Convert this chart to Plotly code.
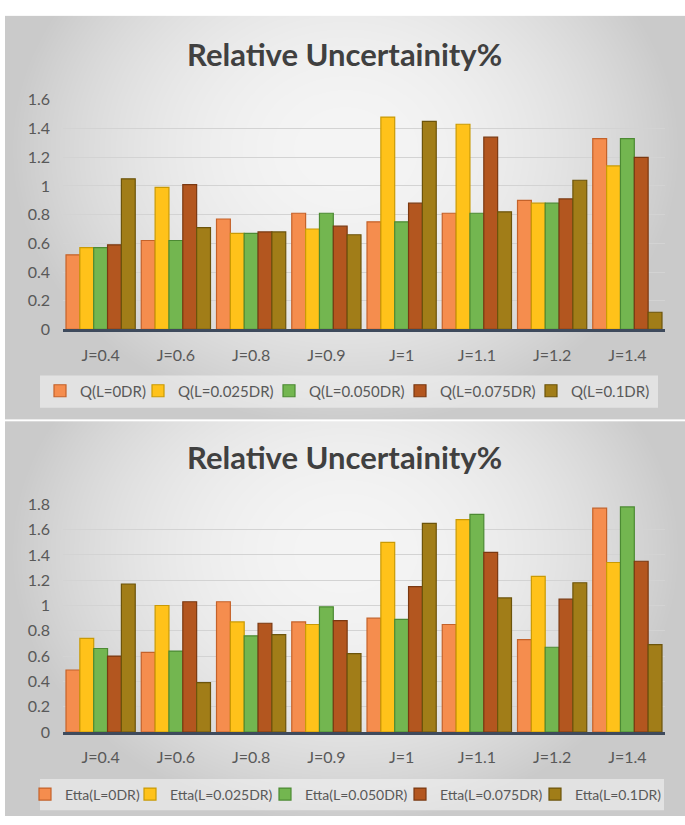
import base64
import struct
import zlib

import numpy as np
import plotly.graph_objects as go

# ---------------------------------------------------------------- data
categories = ["J=0.4", "J=0.6", "J=0.8", "J=0.9", "J=1", "J=1.1", "J=1.2", "J=1.4"]

q_names = ["Q(L=0DR)", "Q(L=0.025DR)", "Q(L=0.050DR)", "Q(L=0.075DR)", "Q(L=0.1DR)"]
q_l000 = [0.52, 0.62, 0.77, 0.81, 0.75, 0.81, 0.90, 1.33]
q_l025 = [0.57, 0.99, 0.67, 0.70, 1.48, 1.43, 0.88, 1.14]
q_l050 = [0.57, 0.62, 0.67, 0.81, 0.75, 0.81, 0.88, 1.33]
q_l075 = [0.59, 1.01, 0.68, 0.72, 0.88, 1.34, 0.91, 1.20]
q_l100 = [1.05, 0.71, 0.68, 0.66, 1.45, 0.82, 1.04, 0.12]

etta_names = ["Etta(L=0DR)", "Etta(L=0.025DR)", "Etta(L=0.050DR)",
              "Etta(L=0.075DR)", "Etta(L=0.1DR)"]
etta_l000 = [0.49, 0.63, 1.03, 0.87, 0.90, 0.85, 0.73, 1.77]
etta_l025 = [0.74, 1.00, 0.87, 0.85, 1.50, 1.68, 1.23, 1.34]
etta_l050 = [0.66, 0.64, 0.76, 0.99, 0.89, 1.72, 0.67, 1.78]
etta_l075 = [0.60, 1.03, 0.86, 0.88, 1.15, 1.42, 1.05, 1.35]
etta_l100 = [1.17, 0.39, 0.77, 0.62, 1.65, 1.06, 1.18, 0.69]

title_text = "Relative Uncertainity%"

# ---------------------------------------------------------------- styling
W, H = 685, 825
FONT = "Lato"
face_colors = ["#F58D4E", "#FFC21A", "#73B650", "#B3561F", "#A17D18"]
edge_colors = ["#C4622A", "#C99A05", "#4C8A33", "#7A3811", "#6C540B"]

# per-entry legend widths (px) so the horizontal legends stay on one row
q_legend_widths = [53, 86, 86, 86, 85]
etta_legend_widths = [60, 90, 90, 90, 95]


def png_data_uri(rgb):
    """Encode an (h, w, 3) uint8 array as a PNG data URI."""
    h, w, _ = rgb.shape
    raw = b"".join(b"\x00" + rgb[r].tobytes() for r in range(h))

    def chunk(tag, payload):
        body = tag + payload
        return (struct.pack(">I", len(payload)) + body
                + struct.pack(">I", zlib.crc32(body) & 0xFFFFFFFF))

    png = (b"\x89PNG\r\n\x1a\n"
           + chunk(b"IHDR", struct.pack(">IIBBBBB", w, h, 8, 2, 0, 0, 0))
           + chunk(b"IDAT", zlib.compress(raw, 9))
           + chunk(b"IEND", b""))
    return "data:image/png;base64," + base64.b64encode(png).decode()


def panel_backdrop():
    """White page holding two grey panels with a soft radial shading."""
    img = np.full((H, W), 255.0)
    yy, xx = np.mgrid[0:H, 0:W].astype(float)
    for top, bottom in ((6, 419), (421, H)):
        left, right = 5, W
        u = (xx - left) / (right - left) - 0.5
        v = (yy - top) / (bottom - top) - 0.33
        r2 = (2 * u) ** 2 + (v / 0.7) ** 2
        shade = np.clip(245 - 44 * r2, 202, 245)
        inside = (yy >= top) & (yy < bottom) & (xx >= left)
        img[inside] = shade[inside]
    rgb = np.repeat(img[:, :, None], 3, axis=2).clip(0, 255).astype(np.uint8)
    return png_data_uri(rgb)


fig = go.Figure()

panels = [
    (q_names, [q_l000, q_l025, q_l050, q_l075, q_l100], q_legend_widths,
     "x", "y", "legend"),
    (etta_names, [etta_l000, etta_l025, etta_l050, etta_l075, etta_l100],
     etta_legend_widths, "x2", "y2", "legend2"),
]
for names, series, lws, xa, ya, lg in panels:
    for name, vals, lw, fc, ec in zip(names, series, lws, face_colors, edge_colors):
        fig.add_trace(go.Bar(
            x=categories, y=vals, name=name, xaxis=xa, yaxis=ya, legend=lg,
            legendwidth=lw,
            marker=dict(color=fc, line=dict(color=ec, width=1.2)),
            hoverinfo="skip",
        ))


def ypos(px):
    return 1 - px / H


x_dom = [63 / W, 665 / W]
axis_common = dict(
    showline=True, linecolor="#3E4A5C", linewidth=3, ticks="",
    tickfont=dict(family=FONT, size=16, color="#595959"),
    ticklabelstandoff=9, showgrid=False, zeroline=False, fixedrange=True,
)
yaxis_common = dict(
    showgrid=True, gridcolor="#D3D3D3", gridwidth=1, zeroline=False,
    showline=False, ticks="", dtick=0.2, tickformat="~g",
    tickfont=dict(family=FONT, size=16, color="#595959"),
    ticklabelstandoff=12, fixedrange=True,
)
legend_common = dict(
    orientation="h", xanchor="left", yanchor="middle",
    bgcolor="rgba(0,0,0,0)", borderwidth=0,
    itemclick=False, itemdoubleclick=False, traceorder="normal",
)

fig.update_layout(
    width=W, height=H,
    margin=dict(l=0, r=0, t=0, b=0),
    paper_bgcolor="white", plot_bgcolor="rgba(0,0,0,0)",
    barmode="group", bargap=0.08, bargroupgap=0.0,
    font=dict(family=FONT),
    xaxis=dict(domain=x_dom, anchor="y", **axis_common),
    yaxis=dict(domain=[ypos(327), ypos(92)], range=[0, 1.6], anchor="x",
               **yaxis_common),
    xaxis2=dict(domain=x_dom, anchor="y2", **axis_common),
    yaxis2=dict(domain=[ypos(739), ypos(506)], range=[0, 1.8], anchor="x2",
                **yaxis_common),
    legend=dict(x=40 / W, y=ypos(390),
                font=dict(family=FONT, size=15, color="#595959"),
                **legend_common),
    legend2=dict(x=25 / W, y=ypos(803),
                 font=dict(family=FONT, size=14, color="#595959"),
                 **legend_common),
    images=[dict(source=panel_backdrop(), xref="paper", yref="paper",
                 x=0, y=1, sizex=1, sizey=1, xanchor="left", yanchor="top",
                 sizing="stretch", layer="below")],
    shapes=[
        dict(type="rect", xref="paper", yref="paper",
             x0=40 / W, x1=658 / W, y0=ypos(407), y1=ypos(374),
             fillcolor="rgba(245,245,245,0.55)", line=dict(width=0),
             layer="below"),
        dict(type="rect", xref="paper", yref="paper",
             x0=40 / W, x1=664 / W, y0=ypos(819), y1=ypos(787),
             fillcolor="rgba(245,245,245,0.55)", line=dict(width=0),
             layer="below"),
    ],
    annotations=[
        dict(text="<b>" + title_text + "</b>", xref="paper", yref="paper",
             x=0.503, y=ypos(45), xanchor="center", yanchor="middle",
             showarrow=False, font=dict(family=FONT, size=31, color="#404040")),
        dict(text="<b>" + title_text + "</b>", xref="paper", yref="paper",
             x=0.503, y=ypos(458), xanchor="center", yanchor="middle",
             showarrow=False, font=dict(family=FONT, size=31, color="#404040")),
    ],
)

fig.write_html("out.html")
